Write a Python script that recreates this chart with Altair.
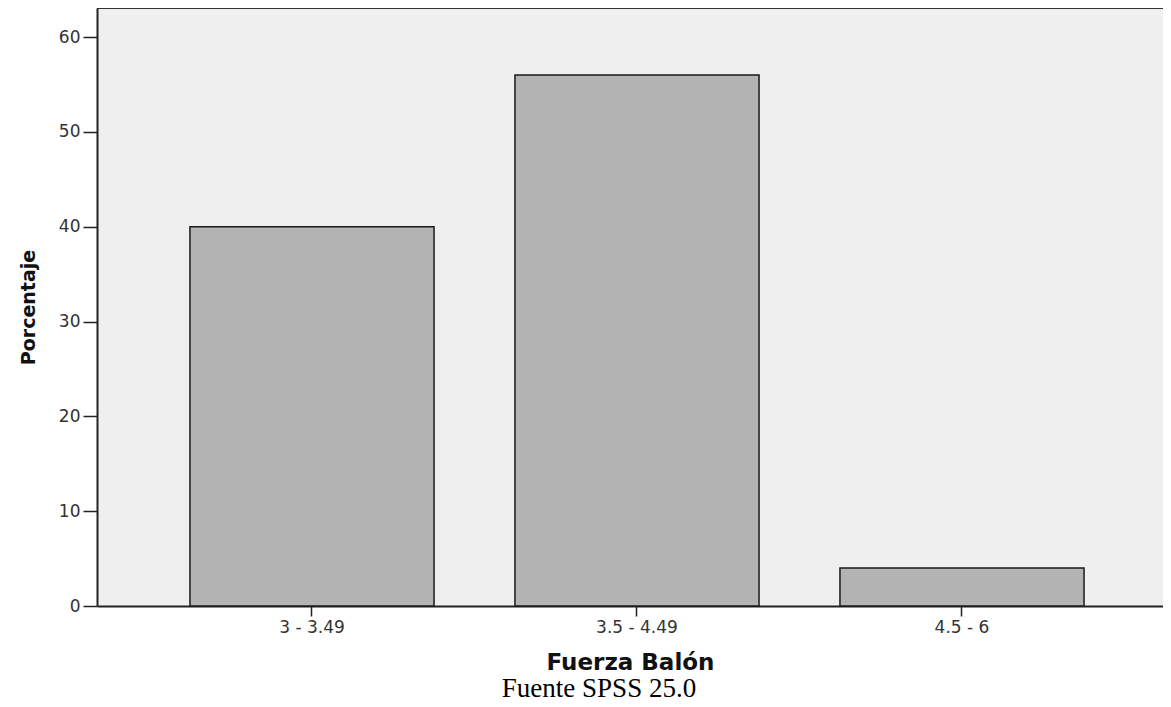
import altair as alt
import pandas as pd

categories = ["3 - 3.49", "3.5 - 4.49", "4.5 - 6"]
percentages = [40, 56, 4]
y_ticks = [0, 10, 20, 30, 40, 50, 60]

df = pd.DataFrame({"cat": categories, "pct": percentages})

bars = alt.Chart(df).mark_bar(color="#b3b3b3", stroke="#1a1a1a", strokeWidth=1.5).encode(
    x=alt.X(
        "cat:N",
        sort=categories,
        scale=alt.Scale(paddingInner=0.249, paddingOuter=0.2645, align=0.5407),
        axis=alt.Axis(
            title="Fuerza Balón",
            labelAngle=0,
            labelFont="DejaVu Sans",
            labelFontSize=17,
            labelColor="#333333",
            labelPadding=3,
            tickSize=10,
            tickColor="#222222",
            tickWidth=1.5,
            domainColor="#222222",
            domainWidth=2,
            titleFont="DejaVu Sans",
            titleFontSize=23,
            titleFontWeight="bold",
            titleColor="#111111",
            titlePadding=16,
        ),
    ),
    y=alt.Y(
        "pct:Q",
        scale=alt.Scale(domain=[0, 63.06], nice=False),
        axis=alt.Axis(
            title="Porcentaje",
            values=y_ticks,
            grid=False,
            labelFont="DejaVu Sans",
            labelFontSize=17,
            labelColor="#333333",
            labelPadding=3,
            tickSize=14,
            tickColor="#222222",
            tickWidth=1.5,
            domainColor="#222222",
            domainWidth=2,
            titleFont="DejaVu Sans",
            titleFontSize=19,
            titleFontWeight="bold",
            titleColor="#111111",
            titlePadding=20,
        ),
    ),
)

top_frame = alt.Chart(pd.DataFrame({"f": [0]})).mark_rule(color="#333333", strokeWidth=2).encode(
    y=alt.value(0)
)

chart = (
    alt.layer(bars, top_frame)
    .properties(
        width=1066,
        height=598,
        autosize=alt.AutoSizeParams(type="none"),
        padding={"left": 89, "top": 0, "right": 0, "bottom": 101},
        title=alt.TitleParams(
            "Fuente SPSS 25.0",
            orient="bottom",
            anchor="middle",
            frame="group",
            font="Liberation Serif",
            fontSize=27,
            fontWeight="normal",
            color="#000000",
            offset=2,
            dx=-31,
        ),
    )
    .configure(background="white")
    .configure_view(stroke="transparent", strokeWidth=0, fill="#efefef")
)

chart.save("out.html", embed_options={"renderer": "svg", "actions": False})
